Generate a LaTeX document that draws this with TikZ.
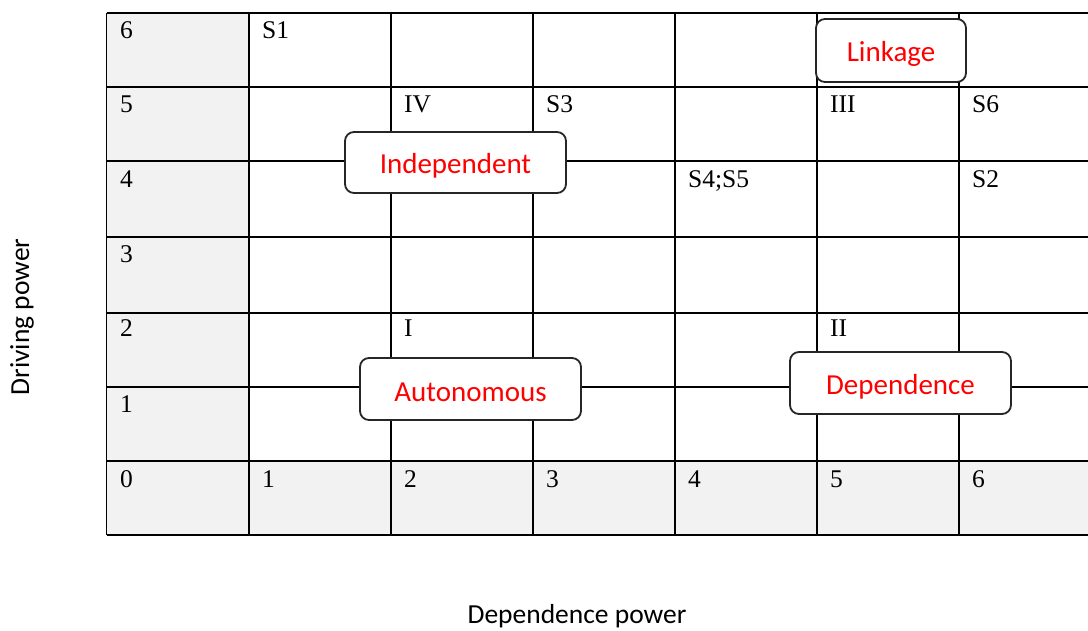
\documentclass[tikz,border=0pt]{standalone}
\usepackage{fontspec}
\setmainfont{Liberation Serif}
\newfontfamily\carlito{Carlito}
\definecolor{cellgray}{HTML}{F2F2F2}
\newcommand\quadtext[1]{\raisebox{-3.5pt}[\height][\depth]{#1}}
\begin{document}
\begin{tikzpicture}[x=1pt,y=-1pt,
  cell/.style={anchor=base west, inner sep=0pt, font=\fontsize{25.5}{30}\selectfont},
  quad/.style={draw=black!85, line width=1.8pt, rounded corners=9pt, fill=white, text=red,
    font=\carlito\fontsize{29}{34}\selectfont, inner sep=0pt},
  gridline/.style={line width=1.4pt},
  thickline/.style={line width=2.8pt},
  axis/.style={font=\carlito\fontsize{27.5}{32}\selectfont, inner sep=0pt}]
\useasboundingbox (0,0) rectangle (1088,631);
% grey header cells
\fill[cellgray] (106.5,13) rectangle (249,535);
\fill[cellgray] (106.5,461) rectangle (1088,535);
% grid
\foreach \y in {13,87,161,313,387,461,535} \draw[gridline] (106.5,\y) -- (1088,\y);
\foreach \x in {106.5,249,391,533,817,959} \draw[gridline] (\x,13) -- (\x,535);
\draw[thickline] (106.5,237) -- (1088,237);
\draw[thickline] (675,13) -- (675,535);
% cell texts
\node[cell] (r6) at (120,39) {6};
\node[cell] (s1) at (262,39) {S1};
\node[cell] (r5) at (120,113) {5};
\node[cell] (iv) at (404,113) {IV};
\node[cell] (s3) at (546,113) {S3};
\node[cell] (iii) at (830,113) {III};
\node[cell] (s6) at (972,113) {S6};
\node[cell] (r4) at (120,188) {4};
\node[cell] (s45) at (688,188) {S4;S5};
\node[cell] (s2) at (972,188) {S2};
\node[cell] (r3) at (120,263) {3};
\node[cell] (r2) at (120,337) {2};
\node[cell] (i) at (404,337) {I};
\node[cell] (ii) at (830,337) {II};
\node[cell] (r1) at (120,412) {1};
\node[cell] (c0) at (120,487) {0};
\node[cell] (c1) at (262,487) {1};
\node[cell] (c2) at (404,487) {2};
\node[cell] (c3) at (546,487) {3};
\node[cell] (c4) at (688,487) {4};
\node[cell] (c5) at (830,487) {5};
\node[cell] (c6) at (972,487) {6};
% quadrant labels
\node[quad, minimum width=150pt, minimum height=63pt] (linkage) at (891,50.5) {\quadtext{Linkage}};
\node[quad, minimum width=221pt, minimum height=61pt] (indep) at (455.5,162.5) {\quadtext{Independent}};
\node[quad, minimum width=221pt, minimum height=62pt] (auto) at (470.5,389) {\quadtext{Autonomous}};
\node[quad, minimum width=221pt, minimum height=62pt] (dep) at (900.5,383) {\quadtext{Dependence}};
% axis labels
\node[axis, rotate=90] (ylab) at (22,317) {Driving power};
\node[axis] (xlab) at (577,616) {Dependence power};
\end{tikzpicture}
\end{document}
